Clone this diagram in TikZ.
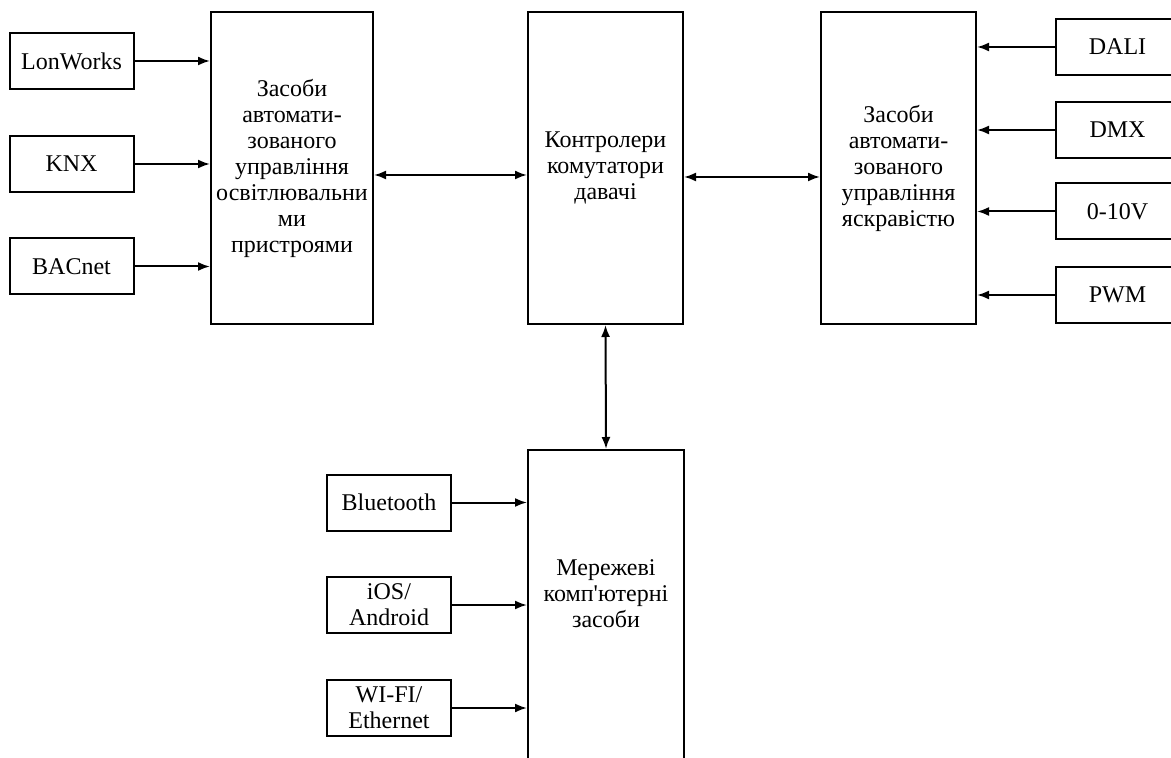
\documentclass[tikz,border=0pt]{standalone}
\usepackage{fontspec}
\setmainfont{Liberation Serif}
\usetikzlibrary{arrows.meta}
\begin{document}
\begin{tikzpicture}[x=0.5pt,y=-0.5pt,
  box/.style={draw,line width=1pt,inner sep=0pt,align=center,
    font=\fontsize{12pt}{13pt}\selectfont},
  small/.style={box,minimum width=62pt,minimum height=28pt},
  big/.style={box,minimum width=78pt,minimum height=156pt},
  tip/.style={Latex[length=6pt,width=4.5pt]},
  conn/.style={line width=1pt,-{Latex[length=6pt,width=4.5pt]}},
  biconn/.style={line width=1pt,{Latex[length=6pt,width=4.5pt]}-{Latex[length=6pt,width=4.5pt]}}]
\path[use as bounding box,clip] (0,0) rectangle (1171,758);

% left group
\node[small] (lon) at (71.5,61) {LonWorks};
\node[small] (knx) at (71.5,164) {KNX};
\node[small] (bac) at (71.5,266.5) {BACnet};
\node[big,minimum width=81pt] (lgt) at (292,168)
  {Засоби\\автомати-\\зованого\\управління\\освітлювальни\\ми\\пристроями};

% central block
\node[big,minimum width=77.5pt] (ctr) at (605.5,168) {Контролери\\комутатори\\давачі};

% right group
\node[big,minimum width=77.5pt] (rgt) at (898.5,168)
  {Засоби\\автомати-\\зованого\\управління\\яскравістю};
\node[small] (dali) at (1117.5,47) {DALI};
\node[small] (dmx) at (1117.5,130) {DMX};
\node[small] (volt) at (1117.5,211.5) {0-10V};
\node[small] (pwm) at (1117.5,295) {PWM};

% bottom group
\node[box,minimum width=78pt,minimum height=170pt] (mrz) at (606,620) {};
\node[box,draw=none] (mrzt) at (606,594) {Мережеві\\комп\textquotesingle ютерні\\засоби};
\node[small] (bt) at (389,502.5) {Bluetooth};
\node[small] (ios) at (389,605) {iOS/\\Android};
\node[small] (wifi) at (389,708) {WI-FI/\\Ethernet};

% connectors
\foreach \s in {lon,knx,bac}
  \draw[conn] (\s.east) -- (\s.east -| lgt.west);
\foreach \s in {dali,dmx,volt,pwm}
  \draw[conn] (\s.west) -- (\s.west -| rgt.east);
\foreach \s in {bt,ios,wifi}
  \draw[conn] (\s.east) -- (\s.east -| mrz.west);
\draw[biconn] ([yshift=-3.5pt]lgt.east) -- ([yshift=-3.5pt]ctr.west);
\draw[biconn] ([yshift=-4.5pt]ctr.east) -- ([yshift=-4.5pt]rgt.west);
\draw[biconn] (ctr.south) -- (mrz.north);
\end{tikzpicture}
\end{document}
